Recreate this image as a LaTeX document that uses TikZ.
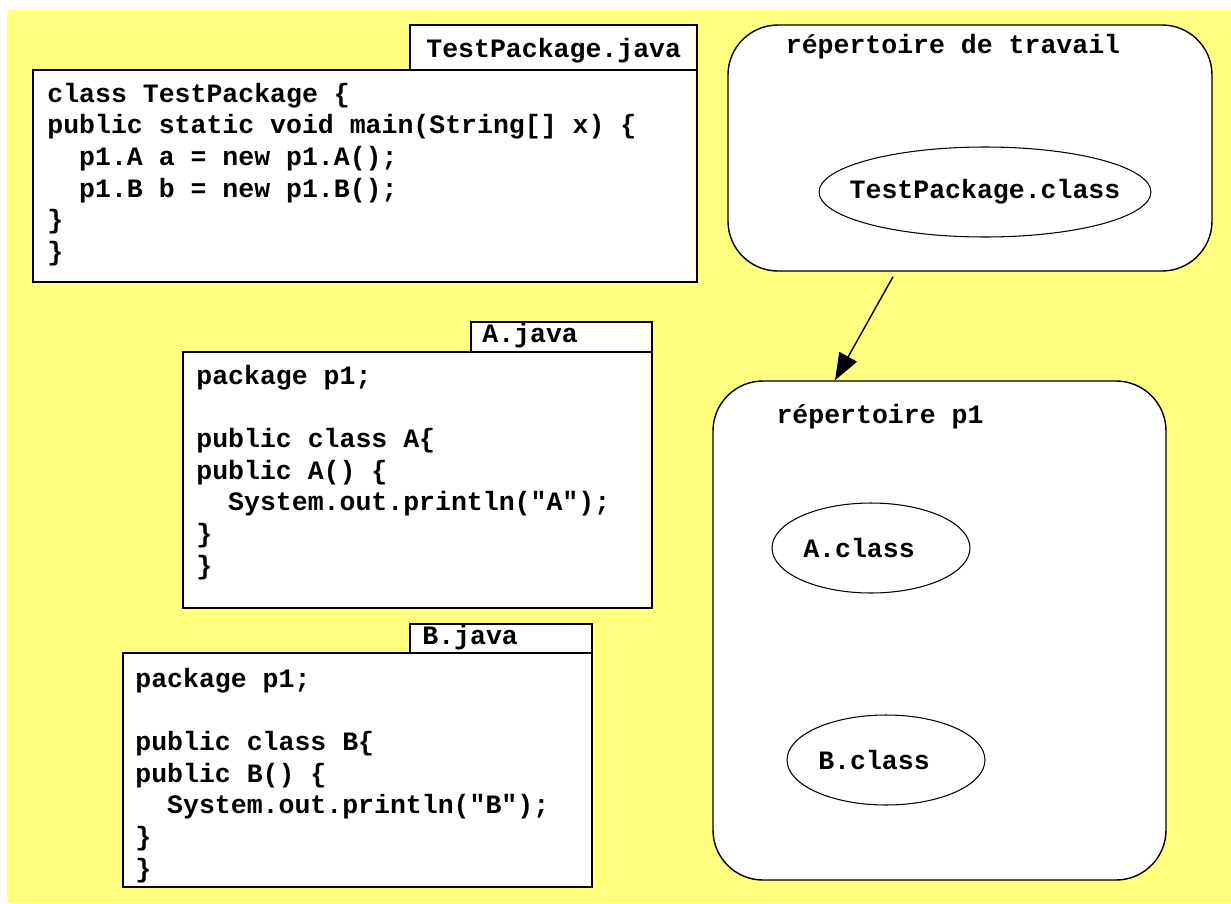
\documentclass[tikz,border=0pt]{standalone}
\usepackage{fontspec}
\setmainfont{Liberation Mono}[Ligatures=TeXOff]
\usetikzlibrary{arrows.meta,calc,fit,shapes.geometric}
\definecolor{fond}{RGB}{255,255,128}
\tikzset{
  filebox/.style={draw,fill=white,line width=0.8pt,inner sep=0pt},
  dirbox/.style={draw,fill=white,line width=0.8pt,rounded corners=1cm,inner sep=0pt},
  classnode/.style={draw,fill=white,ellipse,line width=0.6pt,inner sep=0pt},
  code/.style={align=left,inner sep=0pt,anchor=base west},
  arr/.style={-{Triangle[length=0.54cm,width=0.4cm]},line width=0.8pt}
}
\begin{document}
\begin{tikzpicture}[x=0.02cm,y=-0.02cm,font=\fontsize{15.1}{18.04}\selectfont\bfseries]
\useasboundingbox (0,0) rectangle (1231,903);
\fill[fond] (7,10) rectangle (1231,903);
% TestPackage.java (base = last line)
\node[filebox,fit={(410,25)(697,70)}] (tptab) {};
\node[filebox,fit={(33,70)(697,282)}] (tpbox) {};
\node[code] (tpname) at (426,57) {TestPackage.java};
\node[code] (tpcode) at (47,260.5) {class TestPackage \{\\
public static void main(String[] x) \{\\
\hspace*{1.2em}p1.A a = new p1.A();\\
\hspace*{1.2em}p1.B b = new p1.B();\\
\}\\
\}};
% A.java
\node[filebox,fit={(471,322)(652,352)}] (atab) {};
\node[filebox,fit={(183,352)(652,608)}] (abox) {};
\node[code] (aname) at (482,342) {A.java};
\node[code] (acode) at (196,574.2) {package p1;\\ \\
public class A\{\\
public A() \{\\
\hspace*{1.2em}System.out.println("A");\\
\}\\
\}};
% B.java
\node[filebox,fit={(410,624)(592,653)}] (btab) {};
\node[filebox,fit={(123,653)(592,887)}] (bbox) {};
\node[code] (bname) at (422,644) {B.java};
\node[code] (bcode) at (135,877.2) {package p1;\\ \\
public class B\{\\
public B() \{\\
\hspace*{1.2em}System.out.println("B");\\
\}\\
\}};
% repertoires
\node[dirbox,fit={(728,25)(1212,271)}] (travail) {};
\node[anchor=base] (travailname) at (953,53) {répertoire de travail};
\node[classnode,minimum width=6.64cm,minimum height=1.8cm] (tpclass) at (985,192) {\makebox[0pt]{TestPackage.class}};
\node[dirbox,fit={(713,381)(1166,880)}] (p1) {};
\node[anchor=base] (p1name) at (880,423) {répertoire p1};
\node[classnode,minimum width=3.96cm,minimum height=1.8cm] (aclass) at (871,548) {A.class\hspace*{0.48cm}};
\node[classnode,minimum width=3.96cm,minimum height=1.8cm] (bclass) at (886,760) {B.class\hspace*{0.48cm}};
\draw[arr] ($(travail.south)+(-77,5)$) -- ($(p1.north)+(-104.5,0)$);
\end{tikzpicture}
\end{document}
